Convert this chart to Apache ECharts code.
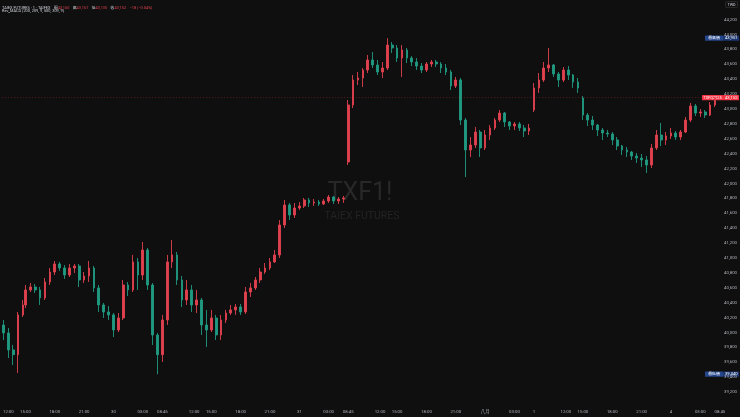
<!DOCTYPE html>
<html><head><meta charset="utf-8">
<script src="https://cdn.jsdelivr.net/npm/echarts@6/dist/echarts.min.js"></script>
<style>html,body{margin:0;padding:0;background:#0f0f0f;}#c{width:740px;height:417px;}</style>
</head><body><div id="c"></div>
<script>
// [open, close, low, high] per 30-minute bar
const jul29Day = [
  [40101,39994,39900,40168],[39994,39766,39658,40061],[39766,39702,39564,39833],[39702,40236,39457,40276],[40236,40370,40209,40437]
];
const jul29Night = [
  [40370,40571,40329,40638],[40571,40611,40544,40665],[40611,40571,40531,40651],[40571,40464,40370,40611],
  [40464,40678,40437,40732],[40678,40812,40638,40866],[40812,40920,40772,40960],[40920,40866,40826,40947],
  [40866,40772,40719,40906],[40772,40866,40745,40920],[40866,40893,40799,40920],[40893,40705,40611,40920],
  [40705,40759,40665,40812],[40759,40866,40678,40960],[40866,40598,40544,40893],[40598,40370,40276,40638],
  [40370,40276,40195,40397],[40276,40236,40168,40356],[40236,40034,39940,40262],[40034,40195,40007,40262],
  [40195,40638,40168,40705],[40638,40571,40490,40678],[40571,40947,40544,41041],[40947,40772,40571,41000],
  [40772,41108,40705,41215],[41108,40638,40571,41135],[40638,39967,39833,40665],[39967,39702,39440,39994]
];
const jul30Day = [
  [39702,40168,39605,40236],[40168,40947,40101,41041],[40947,41041,40866,41242],[41041,40705,40638,41081],
  [40705,40437,40343,40759],[40437,40571,40370,40705],[40571,40370,40276,40638],[40370,40437,40262,40571],
  [40437,40101,39967,40464],[40101,40034,39806,40303]
];
const jul30Night = [
  [40034,40195,40007,40303],[40195,39967,39900,40236],[39967,40168,39900,40236],[40168,40262,40128,40303],
  [40262,40303,40236,40370],[40303,40343,40236,40383],[40343,40276,40236,40383],[40276,40544,40249,40611],
  [40544,40598,40477,40665],[40598,40705,40571,40745],[40705,40812,40665,40866],[40812,40866,40786,40933],
  [40866,40947,40839,41000],[40947,41041,40933,41108],[41041,41443,41000,41510],[41443,41712,41403,41779],
  [41712,41577,41510,41739],[41577,41671,41537,41739],[41671,41698,41645,41752],[41698,41779,41671,41806],
  [41779,41739,41685,41806],[41739,41752,41698,41792],[41752,41725,41698,41779],[41725,41765,41712,41792],
  [41765,41819,41739,41846],[41819,41765,41725,41833],[41765,41792,41725,41819],[41792,41806,41739,41833]
];
const jul31Day = [
  [42289,43054,42248,43121],[43054,43389,43013,43456],[43389,43416,43322,43497],[43416,43523,43295,43550],
  [43523,43658,43483,43725],[43658,43591,43550,43765],[43591,43497,43456,43658],[43497,43550,43416,43631],
  [43550,43859,43523,43951],[43859,43819,43752,43899]
];
const jul31Night = [
  [43819,43684,43631,43859],[43684,43792,43430,43859],[43792,43684,43617,43819],[43684,43631,43577,43711],
  [43631,43577,43523,43684],[43577,43523,43483,43617],[43523,43604,43497,43631],[43604,43631,43564,43658],
  [43631,43604,43564,43658],[43604,43550,43483,43631],[43550,43497,43456,43604],[43497,43309,43255,43523],
  [43309,43389,43282,43430],[43389,42852,42785,43416],[42852,42450,42087,42879],[42450,42517,42356,42624],
  [42517,42691,42477,42758],[42691,42477,42356,42718],[42477,42651,42450,42718],[42651,42745,42584,42785],
  [42745,42852,42718,42879],[42852,42946,42826,42987],[42946,42826,42758,42960],[42826,42772,42718,42839],
  [42772,42799,42718,42826],[42799,42745,42705,42826],[42745,42705,42624,42785],[42705,42745,42651,42799]
];
const aug1Day = [
  [42987,43282,42960,43349],[43282,43389,43215,43483],[43389,43550,43362,43631],[43550,43591,43497,43819],
  [43591,43470,43430,43604],[43470,43389,43295,43497],[43389,43523,43362,43564],[43523,43456,43389,43577],
  [43456,43362,43282,43470],[43362,43282,43215,43416]
];
const aug1Night = [
  [43148,42919,42852,43174],[42919,42852,42772,42946],[42852,42785,42718,42906],[42785,42718,42638,42799],
  [42718,42678,42584,42745],[42678,42664,42624,42718],[42664,42584,42517,42691],[42584,42503,42450,42624],
  [42503,42450,42383,42517],[42450,42423,42356,42490],[42423,42369,42316,42436],[42369,42342,42275,42409],
  [42342,42316,42222,42396],[42316,42248,42141,42369],[42248,42477,42208,42530],[42477,42651,42450,42718],
  [42651,42584,42503,42812],[42584,42638,42517,42691],[42638,42678,42597,42745],[42678,42624,42584,42705],
  [42624,42691,42584,42718],[42691,42852,42678,42893],[42852,43040,42826,43081],[43040,42946,42906,43067],
  [42946,42960,42893,43000],[42960,42919,42879,42987],[42919,43054,42906,43094],[43054,43152,43027,43161]
];

// trading sessions on the time axis: start time and number of 15-minute slots
const sessionStarts = ['2025-07-29 11:30','2025-07-29 15:00','2025-07-30 08:45','2025-07-30 15:00','2025-07-31 08:45','2025-07-31 15:00','2025-08-01 08:45','2025-08-01 15:00','2025-08-04 08:45'];
const sessionSlotCounts = [9,56,20,56,20,56,20,56,1];
const sessionCandles = [jul29Day,jul29Night,jul30Day,jul30Night,jul31Day,jul31Night,aug1Day,aug1Night,[]];

const tickTimes = ['07-29 12:00','07-29 15:00','07-29 18:00','07-29 21:00','07-30 00:00','07-30 03:00','07-30 08:45','07-30 12:00','07-30 15:00','07-30 18:00','07-30 21:00','07-31 00:00','07-31 03:00','07-31 08:45','07-31 12:00','07-31 15:00','07-31 18:00','07-31 21:00','08-01 00:00','08-01 03:00','08-01 08:45','08-01 12:00','08-01 15:00','08-01 18:00','08-01 21:00','08-02 00:00','08-02 03:00','08-04 08:45'];
const tickTexts = ['12:00','15:00','18:00','21:00','30','03:00','08:45','12:00','15:00','18:00','21:00','31','03:00','08:45','12:00','15:00','18:00','21:00','八月','03:00','1','12:00','15:00','18:00','21:00','4','03:00','08:45'];

const yTicks = {min:39000, max:44400, step:200};
const lastPrice = 43152;
const highPrice = 43951;
const lowPrice = 39440;
const symbolName = 'TXFQ2025';
const legendOHLC = ['43,160','43,167','43,135','43,152','−18 (−0.04%)'];

const pad = n => String(n).padStart(2,'0');
const categories = [];
const candleData = [];
sessionStarts.forEach((s, si) => {
  const [d, t] = s.split(' ');
  const [Y, M, D] = d.split('-').map(Number);
  const [h, m] = t.split(':').map(Number);
  let ms = Date.UTC(Y, M - 1, D, h, m);
  for (let k = 0; k < sessionSlotCounts[si]; k++) {
    const dt = new Date(ms);
    categories.push(pad(dt.getUTCMonth()+1)+'-'+pad(dt.getUTCDate())+' '+pad(dt.getUTCHours())+':'+pad(dt.getUTCMinutes()));
    const arr = sessionCandles[si];
    candleData.push(k % 2 === 0 && arr[k/2] ? arr[k/2] : '-');
    ms += 15*60000;
  }
});
const tickMap = new Map(tickTimes.map((t,i)=>[t, tickTexts[i]]));

const FONT = "Roboto, 'Noto Sans CJK TC', sans-serif";
const UP = '#e0414e', DOWN = '#1f9a80';
const chart = echarts.init(document.getElementById('c'), null, {renderer:'canvas'});
chart.setOption({
  backgroundColor: '#0f0f0f',
  animation: false,
  grid: {left: -1.2, right: 16.8, top: 4.7, bottom: 10},
  xAxis: {
    type: 'category', data: categories, boundaryGap: true,
    axisLine: {show: false}, axisTick: {show: false}, splitLine: {show: false},
    axisLabel: {
      interval: (i, v) => tickMap.has(v),
      formatter: v => tickMap.get(v) || '',
      color: '#b0b3bb', fontSize: 4.3, fontFamily: FONT, margin: 3
    }
  },
  yAxis: {
    type: 'value', position: 'right', min: yTicks.min, max: yTicks.max, interval: yTicks.step,
    axisLine: {show: false}, axisTick: {show: false}, splitLine: {show: false},
    axisLabel: {
      showMinLabel: false, showMaxLabel: false, margin: 3,
      color: '#b0b3bb', fontSize: 4.3, fontFamily: FONT,
      formatter: v => v.toLocaleString('en-US')
    }
  },
  series: [{
    type: 'candlestick', data: candleData, barWidth: 2.2,
    itemStyle: {color: UP, color0: DOWN, borderColor: UP, borderColor0: DOWN, borderWidth: 0.9},
    markLine: {
      silent: true, symbol: 'none', label: {show: false},
      lineStyle: {color: 'rgba(242,54,69,0.4)', type: [1,2], width: 0.8},
      data: [{yAxis: lastPrice}]
    }
  }]
});

const yHi = chart.convertToPixel({yAxisIndex: 0}, highPrice);
const yLast = chart.convertToPixel({yAxisIndex: 0}, lastPrice);
const yLo = chart.convertToPixel({yAxisIndex: 0}, lowPrice);
const fmt = v => v.toLocaleString('en-US');
function priceTag(y, name, val, c1, c2, x1) {
  return {type:'group', z: 100, children: [
    {type:'rect', shape:{x:x1, y:y-2.6, width:723-x1, height:5.2, r:0.6}, style:{fill:c1}},
    {type:'text', style:{x:(x1+723)/2, y:y, text:name, fill:'#ffffff', fontSize:3.9, fontFamily:FONT, align:'center', verticalAlign:'middle'}},
    {type:'rect', shape:{x:723, y:y-2.6, width:16, height:5.2, r:0.6}, style:{fill:c2}},
    {type:'text', style:{x:725, y:y, text:val, fill:'#ffffff', fontSize:4.2, fontFamily:FONT, align:'left', verticalAlign:'middle'}}
  ]};
}
chart.setOption({graphic: [
  {type:'text', z:0, style:{x:360, y:194, text:'TXF1!', fill:'#282828', fontSize:25, fontFamily:FONT, align:'center', verticalAlign:'middle'}},
  {type:'text', z:0, style:{x:362, y:216, text:'TAIEX FUTURES', fill:'#232323', fontSize:10.5, fontFamily:FONT, align:'center', verticalAlign:'middle'}},
  {type:'text', left:2, top:1.8, z:100, style:{
    text:'{t|TAIEX FUTURES · 1 · TAIFEX} {k|開}{v|'+legendOHLC[0]+'} {k|高}{v|'+legendOHLC[1]+'} {k|低}{v|'+legendOHLC[2]+'} {k|收}{v|'+legendOHLC[3]+'} {v|'+legendOHLC[4]+'}',
    rich:{t:{fill:'#d1d4dc',fontSize:3.9,fontFamily:FONT},k:{fill:'#d1d4dc',fontSize:3.9,fontFamily:FONT},v:{fill:UP,fontSize:3.9,fontFamily:FONT}}}},
  {type:'text', left:2, top:9.5, z:100, style:{text:'Rev_MACD (200, 209, 9, 500, 309, 9)', fill:'#d1d4dc', fontSize:3.9, fontFamily:FONT}},
  {type:'rect', z:100, shape:{x:725.5, y:1.5, width:12, height:6, r:1}, style:{fill:'#0f0f0f', stroke:'#3a3a3a', lineWidth:0.6}},
  {type:'text', z:101, style:{x:731.5, y:4.6, text:'TWD', fill:'#d1d4dc', fontSize:3.8, fontFamily:FONT, align:'center', verticalAlign:'middle'}},
  priceTag(yHi, '最高價', fmt(highPrice), '#24468c', '#1b3670', 705),
  priceTag(yLast, symbolName, fmt(lastPrice), '#f23645', '#f23645', 702),
  priceTag(yLo, '最低價', fmt(lowPrice), '#24468c', '#1b3670', 705)
]});
</script></body></html>
